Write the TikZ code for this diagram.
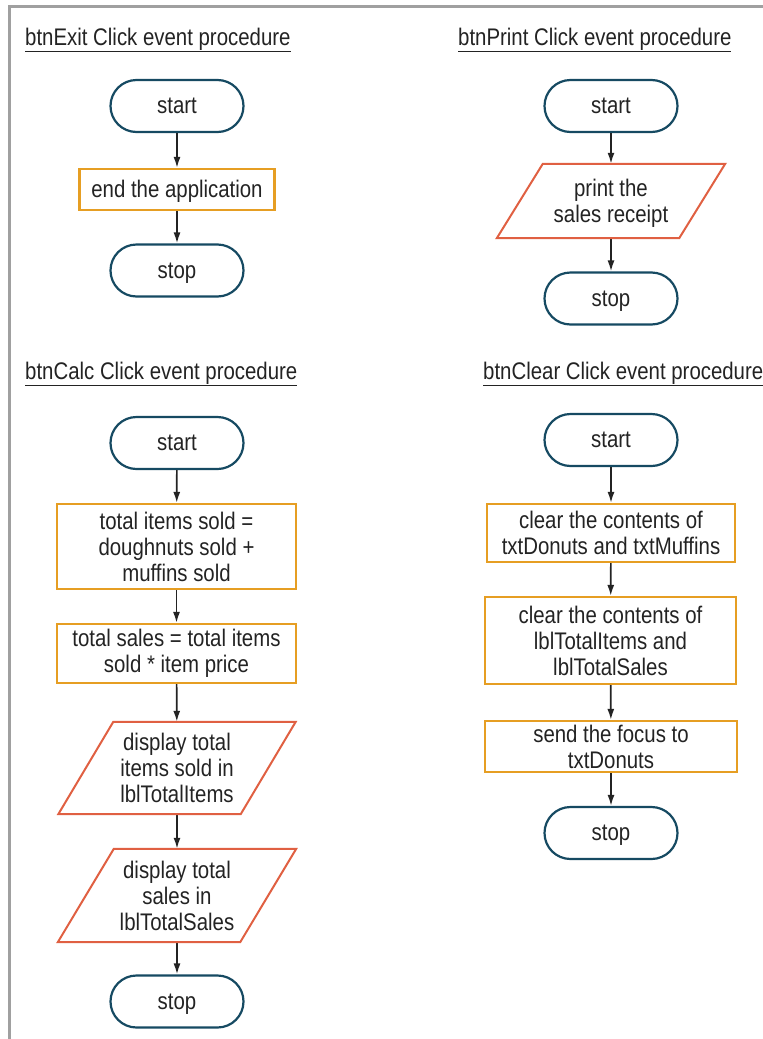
\documentclass[tikz,border=0pt]{standalone}
\usepackage{fontspec}
\setmainfont{Liberation Sans}[FakeStretch=0.85]
\usetikzlibrary{arrows.meta}
\definecolor{termc}{RGB}{22,74,98}
\definecolor{procc}{RGB}{230,158,35}
\definecolor{ioc}{RGB}{224,96,66}
\definecolor{txtc}{RGB}{35,35,35}
\definecolor{framec}{RGB}{160,160,160}
\begin{document}
\begin{tikzpicture}[x=1pt,y=-1pt,
  every node/.style={text=txtc,font=\fontsize{24}{26}\selectfont,align=center,inner sep=0pt},
  term/.style={draw=termc,line width=2.2pt,rounded corners=26pt,minimum width=133pt,minimum height=52pt,text height=15pt,text depth=0pt},
  proc/.style={draw=procc,line width=2.2pt},
  iobox/.style={},
  iodraw/.style={draw=ioc,line width=2pt},
  title/.style={anchor=base west},
  flow/.style={draw=txtc,line width=1.7pt,-{Latex[length=11pt,width=7pt]}}]
\useasboundingbox (0,0) rectangle (763,1039);
% frame
\draw[framec,line width=3pt] (9,1039) -- (9,6) -- (763,6);
% titles
\node[title] (t1) at (25,45) {\underline{btnExit Click event procedure}};
\node[title] (t2) at (458,45) {\underline{btnPrint Click event procedure}};
\node[title] (t3) at (25,379) {\underline{btnCalc Click event procedure}};
\node[title] (t4) at (483,379) {\underline{btnClear Click event procedure}};
% btnExit
\node[term] (e1) at (177,106) {start};
\node[proc,minimum width=195pt,minimum height=41pt,text height=15pt,text depth=0pt] (e2) at (177,189.5) {end the application};
\node[term] (e3) at (177,270.5) {stop};
\draw[flow] (e1) -- (e2);
\draw[flow] (e2) -- (e3);
% btnPrint
\node[term] (p1) at (611,106) {start};
\node[iobox,minimum width=182pt,minimum height=74pt,text depth=0pt] (p2) at (611,201) {print the\\sales receipt};
\node[term] (p3) at (611,298.5) {stop};
\draw[flow] (p1) -- (p2);
\draw[flow] (p2) -- (p3);
% btnCalc
\node[term] (c1) at (177,443) {start};
\node[proc,minimum width=239pt,minimum height=85pt] (c2) at (176.5,546.5) {total items sold =\\doughnuts sold +\\muffins sold};
\node[proc,minimum width=239pt,minimum height=59pt] (c3) at (176.5,653.5) {total sales = total items\\sold * item price};
\node[iobox,minimum width=182pt,minimum height=92pt] (c4) at (177,768) {display total\\items sold in\\lblTotalItems};
\node[iobox,minimum width=182pt,minimum height=93pt] (c5) at (177,895.5) {display total\\sales in\\lblTotalSales};
\node[term] (c6) at (177,1001.5) {stop};
\draw[flow] (c1) -- (c2);
\draw[flow] (c2) -- (c3);
\draw[flow] (c3) -- (c4);
\draw[flow] (c4) -- (c5);
\draw[flow] (c5) -- (c6);
% btnClear
\node[term] (k1) at (611,440) {start};
\node[proc,minimum width=248pt,minimum height=58pt] (k2) at (611,533) {clear the contents of\\txtDonuts and txtMuffins};
\node[proc,minimum width=251pt,minimum height=87pt] (k3) at (610.5,640.5) {clear the contents of\\lblTotalItems and\\lblTotalSales};
\node[proc,minimum width=252pt,minimum height=51pt] (k4) at (611,746.5) {send the focus to\\txtDonuts};
\node[term] (k5) at (611,833) {stop};
\draw[flow] (k1) -- (k2);
\draw[flow] (k2) -- (k3);
\draw[flow] (k3) -- (k4);
\draw[flow] (k4) -- (k5);
% parallelograms
\foreach \n/\s in {p2/23,c4/27.5,c5/28}
  \draw[iodraw] ([xshift=\s pt]\n.north west) -- ([xshift=\s pt]\n.north east)
     -- ([xshift=-\s pt]\n.south east) -- ([xshift=-\s pt]\n.south west) -- cycle;
\end{tikzpicture}
\end{document}
